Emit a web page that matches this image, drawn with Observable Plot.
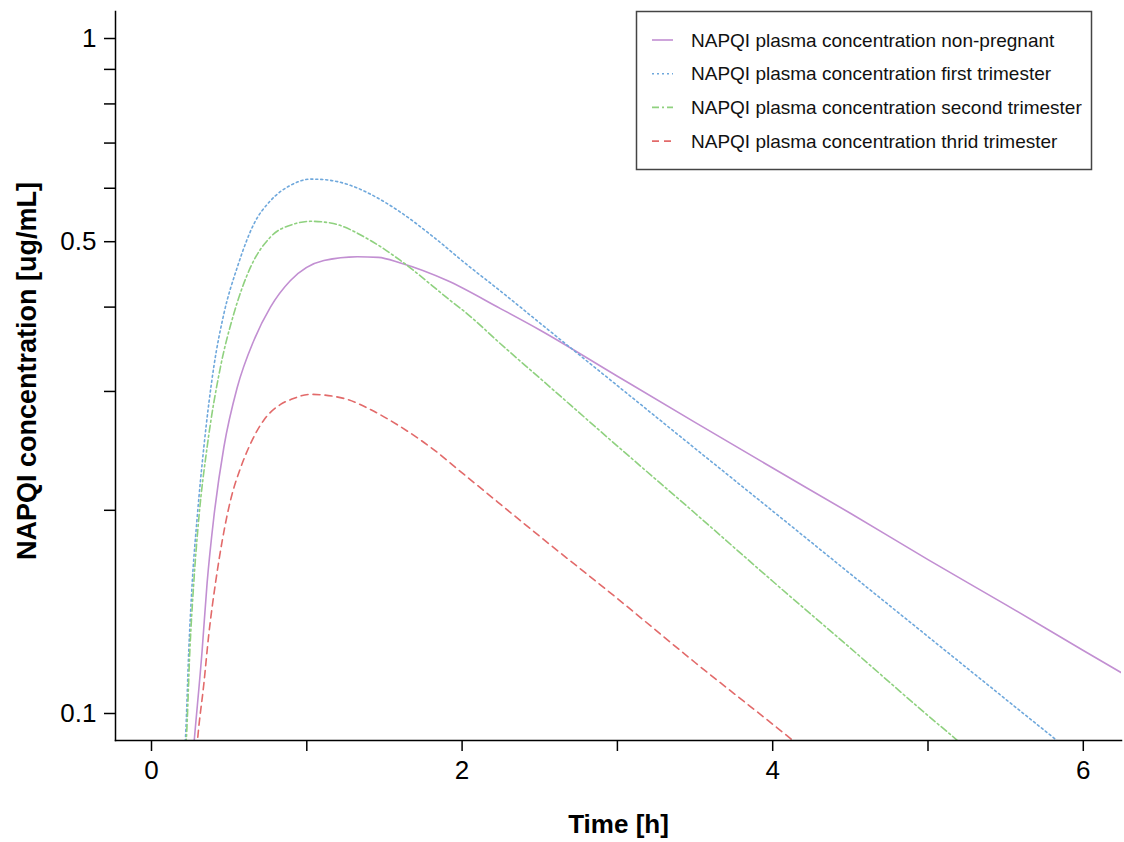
<!DOCTYPE html>
<html>
<head>
<meta charset="utf-8">
<script src="https://cdn.jsdelivr.net/npm/d3@7"></script>
<script src="https://cdn.jsdelivr.net/npm/@observablehq/plot@0.6"></script>
<style>
  html, body { margin: 0; padding: 0; background: #fff; }
  #chart { width: 1124px; height: 842px; }
  svg { font-family: "Liberation Sans", Arial, sans-serif; }
</style>
</head>
<body>
<div id="chart"></div>
<script>
// ---- Data ----
const seriesNames = [
  "NAPQI plasma concentration non-pregnant",
  "NAPQI plasma concentration first trimester",
  "NAPQI plasma concentration second trimester",
  "NAPQI plasma concentration thrid trimester"
];
const seriesColors = ["#c28fd2", "#6fa8dc", "#8fd17f", "#e26a6a"];
const seriesDashes = ["none", "2,3", "7,3,2,3", "7,5"];

const nonPregnantTime = [0.26, 0.277, 0.326, 0.358, 0.401, 0.466, 0.552, 0.659, 0.766, 0.895, 1.11, 1.325, 1.46, 1.603, 1.904, 2.247, 2.5, 3, 3.5, 4, 4.5, 5, 5.5, 6, 6.3];
const nonPregnantConc = [0.083, 0.0922, 0.124, 0.156, 0.195, 0.248, 0.304, 0.357, 0.400, 0.438, 0.469, 0.475, 0.474, 0.465, 0.438, 0.398, 0.370, 0.316, 0.270, 0.231, 0.198, 0.169, 0.145, 0.124, 0.113];

const firstTime = [0.205, 0.219, 0.240, 0.262, 0.294, 0.337, 0.401, 0.466, 0.552, 0.659, 0.766, 0.895, 1.024, 1.11, 1.281, 1.41, 1.603, 1.816, 2.033, 2.25, 2.5, 3, 3.5, 4, 4.5, 5, 5.5, 5.83, 6];
const firstConc = [0.085, 0.0922, 0.124, 0.156, 0.195, 0.248, 0.326, 0.391, 0.458, 0.531, 0.575, 0.606, 0.619, 0.618, 0.606, 0.588, 0.553, 0.508, 0.462, 0.422, 0.379, 0.306, 0.247, 0.1995, 0.161, 0.130, 0.105, 0.0912, 0.0847];

const secondTime = [0.212, 0.225, 0.247, 0.272, 0.305, 0.358, 0.444, 0.53, 0.637, 0.766, 0.916, 1.024, 1.153, 1.41, 1.603, 1.925, 2.033, 2.247, 2.5, 3, 3.5, 4, 4.5, 5, 5.19, 5.4];
const secondConc = [0.085, 0.0922, 0.124, 0.156, 0.195, 0.248, 0.326, 0.391, 0.458, 0.508, 0.531, 0.536, 0.533, 0.502, 0.469, 0.409, 0.391, 0.353, 0.314, 0.249, 0.198, 0.157, 0.125, 0.0993, 0.0912, 0.083];

const thirdTime = [0.285, 0.298, 0.337, 0.369, 0.412, 0.455, 0.509, 0.573, 0.627, 0.723, 0.831, 0.9, 1.024, 1.238, 1.41, 1.603, 1.797, 2.033, 2.5, 3, 3.5, 4, 4.13, 4.3];
const thirdConc = [0.085, 0.0922, 0.1106, 0.131, 0.156, 0.180, 0.207, 0.231, 0.248, 0.272, 0.287, 0.292, 0.297, 0.293, 0.282, 0.266, 0.248, 0.224, 0.183, 0.148, 0.119, 0.0964, 0.0912, 0.0847];

const xTicks = [0, 1, 2, 3, 4, 5, 6];
const xTickLabels = ["0", "", "2", "", "4", "", "6"];
const yTicks = [0.1, 0.2, 0.3, 0.4, 0.5, 0.6, 0.7, 0.8, 0.9, 1];
const yTickLabels = ["0.1", "", "", "", "0.5", "", "", "", "", "1"];

const xLabel = "Time [h]";
const yLabel = "NAPQI concentration [ug/mL]";

// ---- Build tables ----
const times = [nonPregnantTime, firstTime, secondTime, thirdTime];
const concs = [nonPregnantConc, firstConc, secondConc, thirdConc];
const tables = seriesNames.map((name, i) =>
  times[i].map((t, j) => ({series: name, t, c: concs[i][j]}))
);

const lineMarks = tables.map((tbl, i) =>
  Plot.line(tbl, {
    x: "t", y: "c",
    stroke: seriesColors[i],
    strokeWidth: 1.6,
    strokeDasharray: seriesDashes[i] === "none" ? undefined : seriesDashes[i],
    curve: "monotone-x",
    clip: true
  })
);

const chart = Plot.plot({
  width: 1124,
  height: 842,
  marginLeft: 115,
  marginRight: 3,
  marginTop: 11,
  marginBottom: 102,
  style: {fontFamily: "Liberation Sans, Arial, sans-serif", color: "#000", background: "#fff"},
  x: {domain: [-0.2318, 6.246]},
  y: {type: "log", domain: [0.0912, 1.0965]},
  marks: [
    ...lineMarks,
    Plot.axisX({
      ticks: xTicks,
      tickFormat: d => xTickLabels[xTicks.indexOf(d)],
      tickSize: 11, tickPadding: 9, fontSize: 26, strokeWidth: 1.5, label: null
    }),
    Plot.axisY({
      ticks: yTicks,
      tickFormat: d => yTickLabels[yTicks.indexOf(d)],
      tickSize: 11, tickPadding: 8, fontSize: 26, strokeWidth: 1.5, label: null
    }),
    Plot.frame({anchor: "left", strokeWidth: 1.5}),
    Plot.frame({anchor: "bottom", strokeWidth: 1.5}),
    Plot.text([xLabel], {frameAnchor: "bottom", lineAnchor: "bottom", dy: 92, fontSize: 26, fontWeight: "bold"}),
    Plot.text([yLabel], {frameAnchor: "left", textAnchor: "middle", rotate: -90, dx: -88, dy: -5, fontSize: 27, fontWeight: "bold"})
  ]
});

// ---- Legend (drawn inside the SVG) ----
const svg = d3.select(chart);
const lg = svg.append("g").attr("class", "legend").attr("text-anchor", "start");
lg.append("rect")
  .attr("x", 636.5).attr("y", 11.5).attr("width", 455).attr("height", 158)
  .attr("fill", "#fff").attr("stroke", "#444").attr("stroke-width", 1.5);
seriesNames.forEach((name, i) => {
  const cy = 40 + i * 33.7;
  lg.append("line")
    .attr("x1", 652).attr("x2", 673).attr("y1", cy).attr("y2", cy)
    .attr("stroke", seriesColors[i]).attr("stroke-width", 1.6)
    .attr("stroke-dasharray", seriesDashes[i] === "none" ? null : seriesDashes[i]);
  lg.append("text")
    .attr("x", 691).attr("y", cy).attr("dy", "0.35em")
    .attr("text-anchor", "start")
    .attr("font-size", 19).attr("fill", "#111")
    .text(name);
});

document.getElementById("chart").appendChild(chart);
</script>
</body>
</html>
